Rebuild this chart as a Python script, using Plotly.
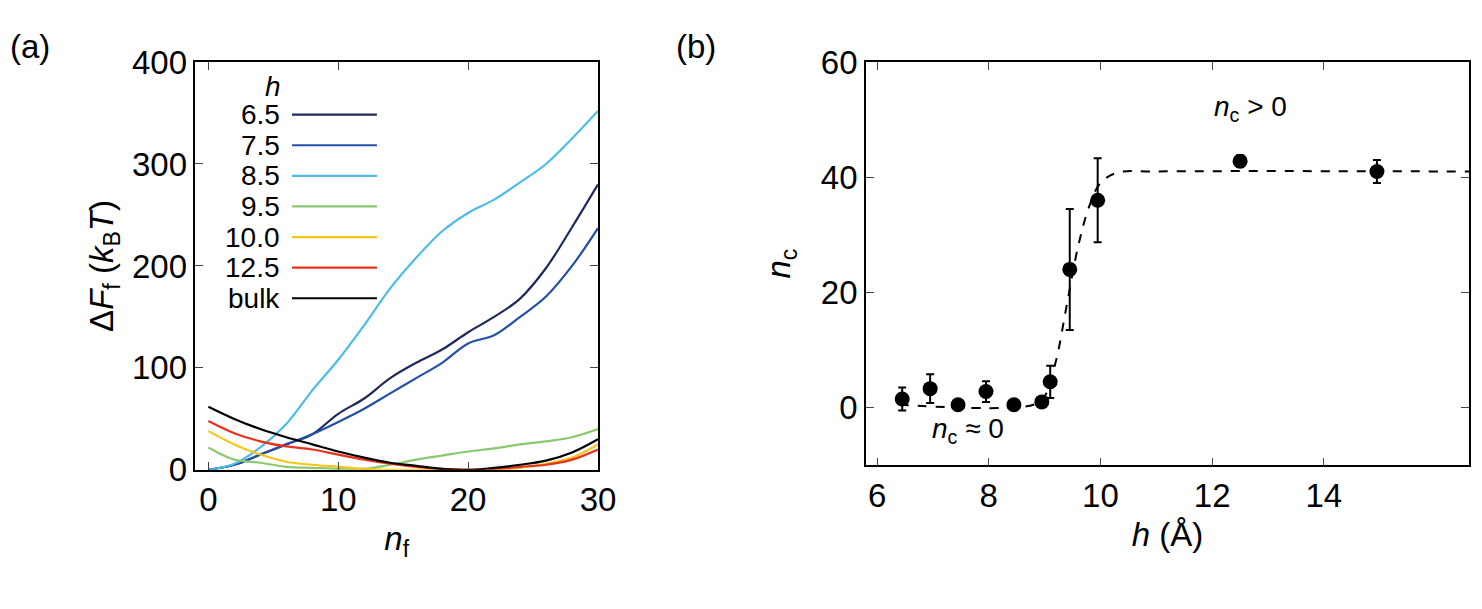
import plotly.graph_objects as go

# panel (a): free energy curves
nf = [0, 2, 4, 6, 8, 10, 12, 14, 16, 18, 20, 22, 24, 26, 28, 30]
curves = {
    "6.5": [0, 5, 15, 25, 35, 55, 70, 90, 105, 118, 135, 150, 168, 198, 238, 280],
    "7.5": [0, 5, 15, 25, 35, 47, 60, 75, 90, 105, 124, 132, 150, 170, 200, 237],
    "8.5": [0, 6, 22, 45, 78, 108, 142, 178, 208, 234, 252, 265, 282, 300, 325, 352],
    "9.5": [22, 10, 7, 3, 2, 1, 1, 5, 10, 14, 18, 21, 25, 28, 32, 40],
    "10.0": [38, 25, 15, 8, 5, 3, 1, 0, 0, 0, 0, 0, 2, 6, 12, 25],
    "12.5": [48, 36, 28, 23, 20, 15, 10, 6, 3, 1, 0, 1, 3, 5, 10, 20],
    "bulk": [62, 50, 40, 32, 25, 18, 12, 7, 4, 1, 0, 2, 5, 9, 17, 30],
}
colors = {"6.5": "#1f2a5c", "7.5": "#2550a8", "8.5": "#4cbde8", "9.5": "#8cc870",
          "10.0": "#f5c518", "12.5": "#e8301c", "bulk": "#000000"}

# panel (b): critical size
h_pts = [6.45, 6.95, 7.45, 7.95, 8.45, 8.95, 9.1, 9.45, 9.95, 12.5, 14.95]
nc_pts = [1.5, 3.3, 0.5, 2.8, 0.5, 1.0, 4.5, 24, 36, 42.8, 41]
nc_err = [2, 2.5, 0.5, 1.8, 0.5, 0.8, 2.8, 10.5, 7.3, 1, 2]
h_fit = [6.4, 8.8, 9.0, 9.2, 9.4, 9.6, 9.8, 10.0, 10.3, 11, 16.6]
nc_fit = [0.5, 0.5, 2, 8, 18, 28, 35, 39, 40.8, 41, 41]

font = dict(family="Liberation Sans, Arial", size=33, color="black")
lfont = dict(family="Liberation Sans, Arial", size=28, color="black")
fig = go.Figure()
for k, v in curves.items():
    fig.add_trace(go.Scatter(x=nf, y=v, mode="lines", line=dict(color=colors[k], width=2.2,
                             shape="spline"), xaxis="x", yaxis="y", showlegend=False))
fig.add_trace(go.Scatter(x=h_fit, y=nc_fit, mode="lines", line=dict(color="black", width=2, dash="dash",
                         shape="spline"), xaxis="x2", yaxis="y2", showlegend=False))
fig.add_trace(go.Scatter(x=h_pts, y=nc_pts, mode="markers", marker=dict(color="black", size=15),
                         error_y=dict(array=nc_err, color="black", thickness=2, width=4),
                         xaxis="x2", yaxis="y2", showlegend=False))

ax = dict(showline=True, linecolor="black", linewidth=1.5, mirror="ticks", ticks="inside",
          ticklen=8, showgrid=False, zeroline=False, tickfont=font)
fig.update_layout(
    width=1482, height=609, margin=dict(l=0, r=0, t=0, b=0),
    plot_bgcolor="white", paper_bgcolor="white", font=font,
    xaxis=dict(ax, domain=[0.128, 0.403], range=[-1, 30], tickvals=[0, 10, 20, 30],
               title=dict(text="<i>n</i><sub>f</sub>", font=font, standoff=10)),
    yaxis=dict(ax, domain=[0.224, 0.937], range=[0, 400], tickvals=[0, 100, 200, 300, 400],
               title=dict(text="Δ<i>F</i><sub>f</sub> (<i>k</i><sub>B</sub><i>T</i>)", font=font, standoff=8)),
    xaxis2=dict(ax, domain=[0.586, 0.998], range=[5.8, 16.6], tickvals=[6, 8, 10, 12, 14],
                anchor="y2", title=dict(text="<i>h</i> (Å)", font=font, standoff=10)),
    yaxis2=dict(ax, domain=[0.232, 0.937], range=[-10, 60], tickvals=[0, 20, 40, 60],
                anchor="x2", title=dict(text="<i>n</i><sub>c</sub>", font=font, standoff=20)),
)

ann = [
    dict(text="(a)", x=0.0, y=1.0, xref="paper", yref="paper", xanchor="left", yanchor="top", font=font),
    dict(text="(b)", x=0.455, y=1.0, xref="paper", yref="paper", xanchor="left", yanchor="top", font=font),
    dict(text="<i>n</i><sub>c</sub> > 0", x=12.0, y=52, xref="x2", yref="y2", xanchor="left",
         yanchor="middle", font=lfont),
    dict(text="<i>n</i><sub>c</sub> ≈ 0", x=6.95, y=-4, xref="x2", yref="y2", xanchor="left",
         yanchor="middle", font=lfont),
    dict(text="<i>h</i>", x=0.188, y=0.895, xref="paper", yref="paper", xanchor="right",
         yanchor="middle", font=lfont),
]
shapes = []
y0 = 0.845
for i, k in enumerate(curves):
    y = y0 - i * 0.0535
    ann.append(dict(text=k, x=0.187, y=y, xref="paper", yref="paper", xanchor="right",
                    yanchor="middle", font=lfont))
    shapes.append(dict(type="line", xref="paper", yref="paper", x0=0.194, x1=0.252, y0=y, y1=y,
                       line=dict(color=colors[k], width=2.2)))
for a in ann:
    a.update(showarrow=False)
fig.update_layout(annotations=ann, shapes=shapes)
fig.write_html("out.html")
